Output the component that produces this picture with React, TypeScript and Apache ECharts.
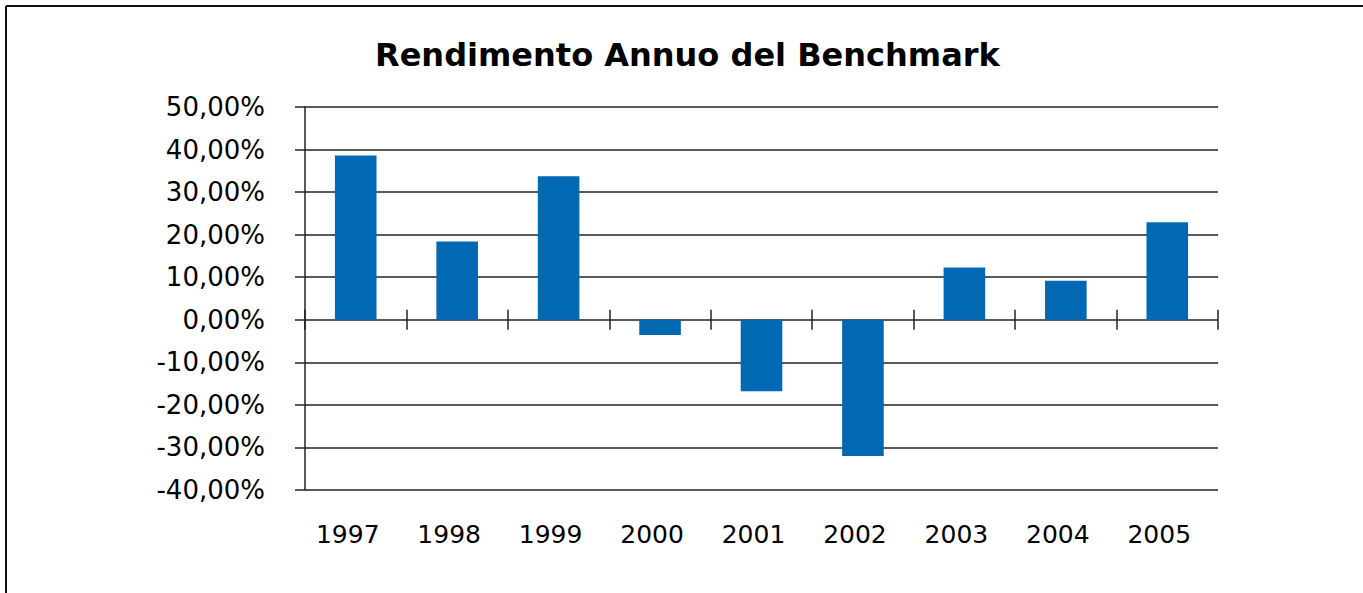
import React, { useEffect, useRef } from "react";
import * as echarts from "echarts";

const TITLE = "Rendimento Annuo del Benchmark";
const YEARS = ["1997", "1998", "1999", "2000", "2001", "2002", "2003", "2004", "2005"];
const RETURNS = [38.6, 18.4, 33.7, -3.6, -16.8, -32.0, 12.3, 9.2, 22.9];
const Y_MIN = -40;
const Y_MAX = 50;
const Y_STEP = 10;

const FONT = "DejaVu Sans";
const AXIS_COLOR = "#222222";
const BAR_COLOR = "#0168B3";

const W = 1363;
const H = 593;
const GRID_LEFT = 305;
const GRID_RIGHT = 145;
const GRID_TOP = 107;
const GRID_BOTTOM = 103;
const CROSS_TICK = 10;

export default function App() {
  const ref = useRef<HTMLDivElement>(null);

  useEffect(() => {
    if (!ref.current) return;
    const chart = echarts.init(ref.current, undefined, { renderer: "svg" });
    const fmt = (v: number) => v.toFixed(2).replace(".", ",") + "%";
    const plotH = H - GRID_TOP - GRID_BOTTOM;
    const zeroY = GRID_TOP + (Y_MAX / (Y_MAX - Y_MIN)) * plotH;
    chart.setOption({
      animation: false,
      backgroundColor: "#ffffff",
      title: {
        text: TITLE,
        left: 375,
        top: 39,
        padding: 0,
        textStyle: { fontFamily: FONT, fontWeight: "bold", fontSize: 32, color: "#000" },
      },
      graphic: [
        { type: "line", shape: { x1: 6, y1: 6, x2: W, y2: 6 }, style: { stroke: "#111", lineWidth: 2 } },
        { type: "line", shape: { x1: 6, y1: 6, x2: 6, y2: H }, style: { stroke: "#111", lineWidth: 2 } },
      ],
      grid: [
        { left: GRID_LEFT, right: GRID_RIGHT, top: GRID_TOP, bottom: GRID_BOTTOM, containLabel: false },
        {
          left: GRID_LEFT,
          right: GRID_RIGHT,
          top: zeroY - CROSS_TICK,
          height: CROSS_TICK * 2,
          containLabel: false,
        },
      ],
      xAxis: [
        {
          type: "category",
          data: YEARS,
          gridIndex: 0,
          position: "bottom",
          axisLine: { show: false, onZero: false },
          axisTick: { show: false },
          axisLabel: {
            margin: 32,
            fontFamily: FONT,
            fontSize: 25,
            color: "#000",
            padding: [0, 16, 0, 0],
          },
          splitLine: { show: false },
        },
        {
          type: "category",
          data: YEARS,
          gridIndex: 1,
          position: "bottom",
          axisLine: { show: false, onZero: false },
          axisTick: {
            show: true,
            inside: true,
            length: CROSS_TICK * 2,
            lineStyle: { color: AXIS_COLOR, width: 1.5 },
          },
          axisLabel: { show: false },
          splitLine: { show: false },
        },
      ],
      yAxis: [
        {
          type: "value",
          gridIndex: 0,
          min: Y_MIN,
          max: Y_MAX,
          interval: Y_STEP,
          axisLine: { show: true, lineStyle: { color: AXIS_COLOR, width: 1.5 } },
          axisTick: { show: true, length: 10, lineStyle: { color: AXIS_COLOR, width: 1.5 } },
          axisLabel: {
            margin: 40,
            fontFamily: FONT,
            fontSize: 26,
            color: "#000",
            formatter: fmt,
            padding: [5, 0, 0, 0],
          },
          splitLine: { show: true, lineStyle: { color: AXIS_COLOR, width: 1.5 } },
        },
        {
          type: "value",
          gridIndex: 1,
          show: false,
          min: 0,
          max: 1,
        },
      ],
      series: [
        {
          type: "bar",
          data: RETURNS,
          xAxisIndex: 0,
          yAxisIndex: 0,
          barWidth: "41%",
          itemStyle: { color: BAR_COLOR },
        },
      ],
    });
    return () => chart.dispose();
  }, []);

  return (
    <div
      ref={ref}
      style={{ position: "fixed", left: 0, top: 0, width: W, height: H, background: "#fff" }}
    />
  );
}
